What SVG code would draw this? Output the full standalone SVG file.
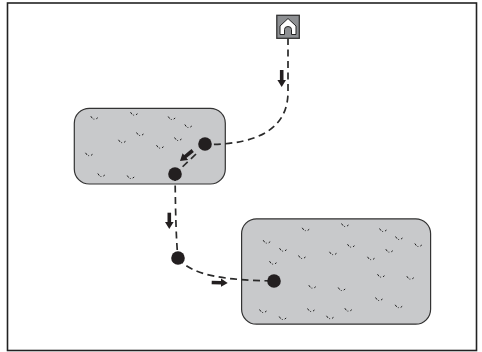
<svg xmlns="http://www.w3.org/2000/svg" width="482" height="352" viewBox="0 0 482 352">
<style>
.field{fill:#c8c9cb;stroke:#333;stroke-width:1.2}
.route{fill:none;stroke:#2a2a2a;stroke-width:1.7;stroke-dasharray:7 4.5}
.dir{fill:none;stroke:#231f20;stroke-width:3.6}
.stop{fill:#231f20}
.g{fill:none;stroke:#222;stroke-width:1}
</style>
<defs>
<marker id="ah" markerUnits="userSpaceOnUse" markerWidth="9" markerHeight="9" refX="1" refY="4.5" orient="auto"><path d="M0 .2L7 4.5L0 8.8Z" fill="#231f20"/></marker>
<g id="t"><path class="g" d="M-3.500-1.500L-2 .6M-.4 1V1.800M2 1.100L3.500 0"/></g>
</defs>
<rect width="482" height="352" fill="#fff"/>
<rect x="7.500" y="3" width="469" height="347.500" fill="#fff" stroke="#222" stroke-width="1.600"/>
<g id="field-1">
<rect class="field" x="74.300" y="108.300" width="151" height="75.700" rx="15"/>
<use href="#t" x="94.300" y="117.700"/><use href="#t" x="134" y="113.700"/><use href="#t" x="171.700" y="118"/><use href="#t" x="188.300" y="126"/><use href="#t" x="140" y="134"/><use href="#t" x="122" y="141.300"/><use href="#t" x="178" y="139"/><use href="#t" x="160" y="146.700"/><use href="#t" x="89" y="154.300"/><use href="#t" x="101.300" y="175"/><use href="#t" x="130.700" y="177"/>
</g>
<g id="field-2">
<rect class="field" x="241.600" y="218.800" width="189" height="105.400" rx="15"/>
<use href="#t" x="305.700" y="229.300"/><use href="#t" x="345" y="225"/><use href="#t" x="383" y="230"/><use href="#t" x="399" y="238"/><use href="#t" x="418.300" y="245"/><use href="#t" x="266.700" y="241.700"/><use href="#t" x="283" y="249.700"/><use href="#t" x="302" y="257"/><use href="#t" x="351" y="245.700"/><use href="#t" x="333" y="253.300"/><use href="#t" x="389.300" y="250.700"/><use href="#t" x="371" y="258.300"/><use href="#t" x="273" y="262.700"/><use href="#t" x="381" y="275.700"/><use href="#t" x="410.300" y="277.700"/><use href="#t" x="312.300" y="286.700"/><use href="#t" x="341.700" y="289"/><use href="#t" x="379" y="299"/><use href="#t" x="398.700" y="306.300"/><use href="#t" x="263" y="311"/><use href="#t" x="311" y="310"/><use href="#t" x="348.300" y="309.700"/><use href="#t" x="330" y="317.300"/><use href="#t" x="282.700" y="318"/>
</g>
<g id="connectors">
<path class="route" d="M288 38V92C288 126 262 145 205 144.500"/>
<path class="route" d="M196 154L175 174"/>
<path class="route" d="M175 174L175.500 205C176 232 177 250 178 258"/>
<path class="route" d="M178 258C192 276 225 280 274 281"/>
<path class="dir" marker-end="url(#ah)" d="M281.700 70V81"/>
<path class="dir" marker-end="url(#ah)" d="M192.700 150.500L184.600 157.200"/>
<path class="dir" marker-end="url(#ah)" d="M169.300 212.700V223"/>
<path class="dir" marker-end="url(#ah)" d="M211.700 282.500L221.700 282.800"/>
</g>
<g id="home">
<rect x="276.800" y="15.300" width="22.500" height="23" fill="#8d8f92" stroke="#333" stroke-width="1.300"/>
<path d="M288 18.500L296 26V34.500H291.500V29.500Q291.500 26.500 288 26.500Q284.500 26.500 284.500 29.500V34.500H280V26Z" fill="#fff" stroke="#222" stroke-width="1"/>
</g>
<g id="stop-1"><circle class="stop" cx="205" cy="144" r="6.800"/></g>
<g id="stop-2"><circle class="stop" cx="175" cy="174" r="6.800"/></g>
<g id="stop-3"><circle class="stop" cx="178" cy="258" r="6.800"/></g>
<g id="stop-4"><circle class="stop" cx="274" cy="281" r="6.800"/></g>
</svg>
